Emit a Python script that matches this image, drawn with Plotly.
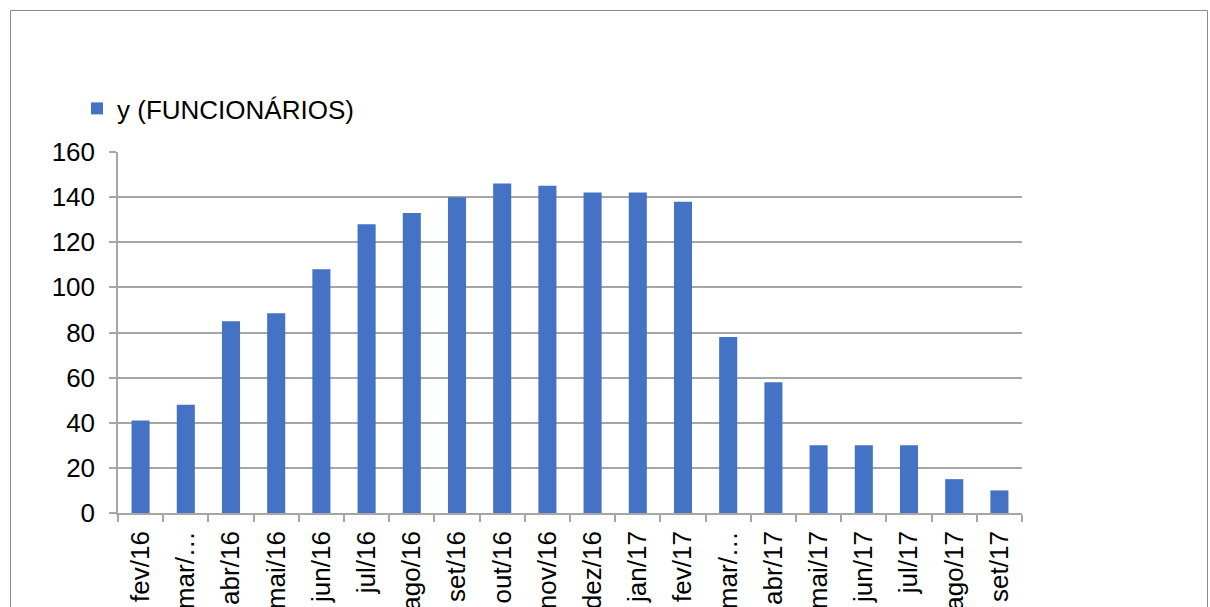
import plotly.graph_objects as go

categories = ["fev/16", "mar/16", "abr/16", "mai/16", "jun/16", "jul/16", "ago/16",
              "set/16", "out/16", "nov/16", "dez/16", "jan/17", "fev/17", "mar/17",
              "abr/17", "mai/17", "jun/17", "jul/17", "ago/17", "set/17"]
tick_labels = ["fev/16", "mar/…", "abr/16", "mai/16", "jun/16", "jul/16", "ago/16",
               "set/16", "out/16", "nov/16", "dez/16", "jan/17", "fev/17", "mar/…",
               "abr/17", "mai/17", "jun/17", "jul/17", "ago/17", "set/17"]
funcionarios = [41, 48, 85, 88.5, 108, 128, 133, 140, 146, 145, 142, 142, 138, 78,
                58, 30, 30, 30, 15, 10]
y_ticks = [0, 20, 40, 60, 80, 100, 120, 140, 160]

FONT = "Liberation Sans, Arial, sans-serif"
GRID = "#A6A6A6"

fig = go.Figure()
fig.add_trace(go.Bar(
    x=categories, y=funcionarios, name="y (FUNCIONÁRIOS)",
    marker=dict(color="#4472C4", line=dict(width=0)),
))

W, H = 1210, 607
L, R, T, B = 118, 1022, 152, 513
pw, ph = R - L, B - T

def px_x(v):
    return (v - L) / pw

def px_y(v):
    return (B - v) / ph

fig.update_layout(
    width=W, height=H,
    margin=dict(l=L, r=W - R, t=T, b=H - B, autoexpand=False),
    paper_bgcolor="white", plot_bgcolor="white",
    font=dict(family=FONT, size=26, color="black"),
    bargap=0.6,
    showlegend=True,
    legend=dict(x=px_x(77), y=px_y(85), xanchor="left", yanchor="top",
                font=dict(size=26), bgcolor="rgba(0,0,0,0)",
                itemwidth=30, tracegroupgap=0),
    xaxis=dict(
        type="category", tickmode="array", tickvals=categories, ticktext=tick_labels,
        tickangle=-90, tickson="boundaries", ticks="outside", ticklen=7,
        tickcolor=GRID, tickwidth=1.5, showline=True, linecolor=GRID, linewidth=1.5,
        showgrid=False, tickfont=dict(size=26), automargin=False,
        ticklabelstandoff=6,
    ),
    yaxis=dict(
        range=[0, 160], tickmode="array", tickvals=y_ticks, ticks="outside", ticklen=7,
        tickcolor=GRID, tickwidth=1.5, showline=True, linecolor=GRID, linewidth=1.5,
        showgrid=True, gridcolor=GRID, gridwidth=1.5, zeroline=False,
        tickfont=dict(size=26), automargin=False, ticklabelstandoff=9,
    ),
    shapes=[dict(type="rect", xref="paper", yref="paper",
                 x0=px_x(10.5), x1=px_x(1207.5), y0=px_y(700), y1=px_y(10.5),
                 line=dict(color="#8C8C8C", width=1), fillcolor="rgba(0,0,0,0)",
                 layer="below")],
)

fig.write_html("out.html")
